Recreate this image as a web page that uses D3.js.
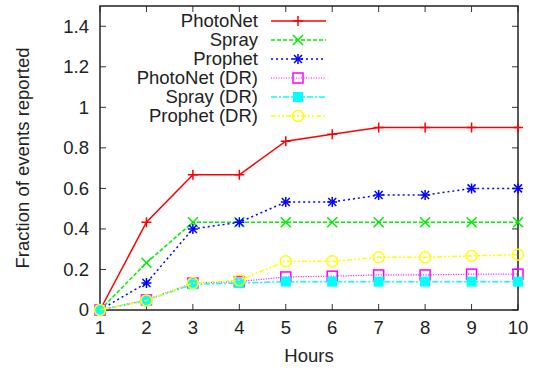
<!DOCTYPE html>
<html>
<head>
<meta charset="utf-8">
<script src="https://cdn.jsdelivr.net/npm/d3@7"></script>
<style>
  body { margin: 0; background: #fff; }
  text { font-family: "Liberation Sans", Arial, sans-serif; fill: #222; }
</style>
</head>
<body>
<svg id="chart" width="543" height="368"></svg>
<script>
var hours = [1, 2, 3, 4, 5, 6, 7, 8, 9, 10];
var photonet   = [0, 0.433, 0.667, 0.667, 0.833, 0.867, 0.9, 0.9, 0.9, 0.9];
var spray      = [0, 0.233, 0.433, 0.433, 0.433, 0.433, 0.433, 0.433, 0.433, 0.433];
var prophet    = [0, 0.133, 0.4, 0.433, 0.533, 0.533, 0.567, 0.567, 0.6, 0.6];
var photonetDR = [0, 0.05, 0.133, 0.14, 0.163, 0.167, 0.173, 0.173, 0.177, 0.177];
var sprayDR    = [0, 0.047, 0.127, 0.133, 0.14, 0.14, 0.14, 0.14, 0.14, 0.14];
var prophetDR  = [0, 0.047, 0.133, 0.147, 0.24, 0.24, 0.26, 0.26, 0.267, 0.273];
var yTicks = [0, 0.2, 0.4, 0.6, 0.8, 1, 1.2, 1.4];

var series = [
  { name: "PhotoNet",      values: photonet,   color: "#ff0000", dash: null,      width: 1.5, marker: "plus" },
  { name: "Spray",         values: spray,      color: "#00ee00", dash: "4,2",     width: 1.5, marker: "cross" },
  { name: "Prophet",       values: prophet,    color: "#0000ff", dash: "2,3",     width: 1.5, marker: "star" },
  { name: "PhotoNet (DR)", values: photonetDR, color: "#ff00ff", dash: "1,1.5",   width: 1.2, marker: "box" },
  { name: "Spray (DR)",    values: sprayDR,    color: "#00ffff", dash: "6,2,2,2", width: 1.5, marker: "fbox" },
  { name: "Prophet (DR)",  values: prophetDR,  color: "#ffff00", dash: "5,2,2,2,2,2", width: 1.5, marker: "circle" }
];

var mLeft = 100, mRight = 518, mTop = 6, mBottom = 310;
var fs = 18.5;

var svg = d3.select("#chart");
var x = d3.scaleLinear().domain([1, 10]).range([mLeft, mRight]);
var y = d3.scaleLinear().domain([0, 1.5]).range([mBottom, mTop]);

// ticks, gnuplot style: inward, mirrored
var tl = 6;
var g = svg.append("g").attr("stroke", "#333").attr("stroke-width", 1);
yTicks.forEach(function (t) {
  g.append("line").attr("x1", mLeft).attr("x2", mLeft + tl).attr("y1", y(t)).attr("y2", y(t));
  g.append("line").attr("x1", mRight).attr("x2", mRight - tl).attr("y1", y(t)).attr("y2", y(t));
});
hours.forEach(function (h) {
  g.append("line").attr("x1", x(h)).attr("x2", x(h)).attr("y1", mBottom).attr("y2", mBottom - tl);
  g.append("line").attr("x1", x(h)).attr("x2", x(h)).attr("y1", mTop).attr("y2", mTop + tl);
});
svg.append("rect").attr("x", mLeft).attr("y", mTop).attr("width", mRight - mLeft).attr("height", mBottom - mTop)
  .attr("fill", "none").attr("stroke", "#222").attr("stroke-width", 1.5);

svg.append("g").selectAll("text").data(yTicks).enter().append("text")
  .attr("x", mLeft - 11).attr("y", function (d) { return y(d); }).attr("dy", "0.35em")
  .attr("text-anchor", "end").attr("font-size", fs).text(function (d) { return d; });
svg.append("g").selectAll("text").data(hours).enter().append("text")
  .attr("x", function (d) { return x(d); }).attr("y", mBottom + 24)
  .attr("text-anchor", "middle").attr("font-size", fs).text(function (d) { return d; });

svg.append("text").attr("x", (mLeft + mRight) / 2).attr("y", 362).attr("text-anchor", "middle")
  .attr("font-size", fs).text("Hours");
svg.append("text").attr("transform", "translate(29,158) rotate(-90)")
  .attr("text-anchor", "middle").attr("font-size", fs).text("Fraction of events reported");

function drawMarker(sel, type, color) {
  var r = 5;
  if (type === "plus" || type === "star") {
    sel.append("path").attr("d", "M" + (-r) + ",0H" + r + "M0," + (-r) + "V" + r)
      .attr("stroke", color).attr("stroke-width", 1.5).attr("fill", "none");
  }
  if (type === "cross" || type === "star") {
    var c = type === "star" ? 4 : 5;
    sel.append("path").attr("d", "M" + (-c) + "," + (-c) + "L" + c + "," + c + "M" + (-c) + "," + c + "L" + c + "," + (-c))
      .attr("stroke", color).attr("stroke-width", 1.5).attr("fill", "none");
  }
  if (type === "box") {
    sel.append("rect").attr("x", -5).attr("y", -5).attr("width", 10).attr("height", 10)
      .attr("stroke", color).attr("stroke-width", 1.5).attr("fill", "none");
  }
  if (type === "fbox") {
    sel.append("rect").attr("x", -5).attr("y", -5).attr("width", 10).attr("height", 10).attr("fill", color);
  }
  if (type === "circle") {
    sel.append("circle").attr("r", 5.5).attr("stroke", color).attr("stroke-width", 1.5).attr("fill", "none");
  }
}

var line = d3.line().x(function (d, i) { return x(hours[i]); }).y(function (d) { return y(d); });

series.forEach(function (s) {
  svg.append("path").datum(s.values).attr("d", line).attr("fill", "none")
    .attr("stroke", s.color).attr("stroke-width", s.width).attr("stroke-dasharray", s.dash);
  s.values.forEach(function (v, i) {
    var m = svg.append("g").attr("transform", "translate(" + x(hours[i]) + "," + y(v) + ")");
    drawMarker(m, s.marker, s.color);
  });
});

// legend
series.forEach(function (s, i) {
  var ly = 21 + i * 19;
  svg.append("text").attr("x", 258).attr("y", ly).attr("dy", "0.35em").attr("text-anchor", "end")
    .attr("font-size", fs).text(s.name);
  svg.append("line").attr("x1", 271).attr("x2", 326).attr("y1", ly).attr("y2", ly)
    .attr("stroke", s.color).attr("stroke-width", s.width).attr("stroke-dasharray", s.dash);
  var m = svg.append("g").attr("transform", "translate(298," + ly + ")");
  drawMarker(m, s.marker, s.color);
});
</script>
</body>
</html>
